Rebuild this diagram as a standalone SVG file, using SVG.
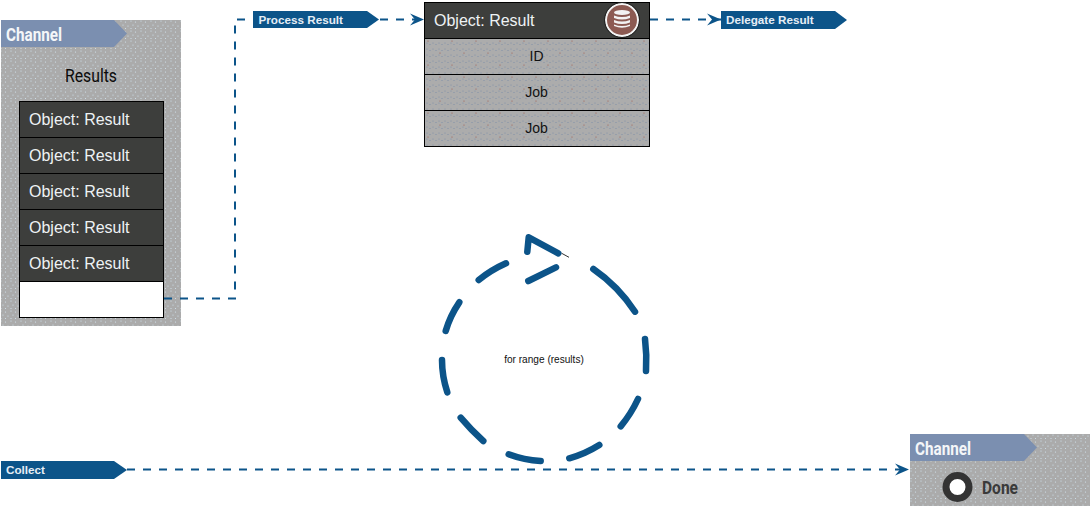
<svg xmlns="http://www.w3.org/2000/svg" width="1090" height="506" viewBox="0 0 1090 506">
<style>
.chan{fill:url(#stipple)}
.hdr{fill:#7b8fb0}
.tag{fill:#0c5489}
.tagt{font:bold 11.700px "Liberation Sans",Arial,sans-serif;fill:#e6eef6}
.cond{font-family:Roboto,"Liberation Sans",sans-serif}
.ct{font-size:18px;font-weight:700;fill:#f4f6f8}
.row{fill:#3d3e3c;stroke:#000;stroke-width:1}
.rowt{font:16px "Liberation Sans",Arial,sans-serif;fill:#eef2f4}
.cell{fill:url(#stipple2);stroke:#000;stroke-width:1}
.cellt{font:14px "Liberation Sans",Arial,sans-serif;fill:#111;text-anchor:middle}
.dash{fill:none;stroke:#0c5489;stroke-width:2;stroke-dasharray:8 8}
.loop{fill:none;stroke:#0c5489;stroke-width:6.500;stroke-linecap:round;stroke-linejoin:round}
</style>
<defs>
<pattern id="stipple" width="10" height="10" patternUnits="userSpaceOnUse"><rect width="10" height="10" fill="#ababab"/><g fill="#d3e6f2"><circle cx="1" cy="1" r=".6"/><circle cx="5.500" cy="2" r=".6"/><circle cx="3" cy="5" r=".6"/><circle cx="8" cy="6" r=".6"/><circle cx="1" cy="8.500" r=".55"/><circle cx="5.500" cy="8.500" r=".55"/></g></pattern>
<pattern id="stipple2" width="24" height="24" patternUnits="userSpaceOnUse"><rect width="24" height="24" fill="#acacac"/><g fill="#7c8ea8"><circle cx="1" cy="1" r=".6"/><circle cx="4" cy="2.500" r=".6"/><circle cx="7" cy="1" r=".6"/><circle cx="10" cy="2.500" r=".6"/><circle cx="13" cy="1" r=".6"/><circle cx="16" cy="2.500" r=".6"/><circle cx="19" cy="1" r=".6"/><circle cx="22" cy="2.500" r=".6"/><circle cx="1" cy="7" r=".6"/><circle cx="4" cy="8.500" r=".6"/><circle cx="7" cy="7" r=".6"/><circle cx="10" cy="8.500" r=".6"/><circle cx="13" cy="7" r=".6"/><circle cx="16" cy="8.500" r=".6"/><circle cx="19" cy="7" r=".6"/><circle cx="22" cy="8.500" r=".6"/><circle cx="1" cy="13" r=".6"/><circle cx="4" cy="14.500" r=".6"/><circle cx="7" cy="13" r=".6"/><circle cx="10" cy="14.500" r=".6"/><circle cx="13" cy="13" r=".6"/><circle cx="16" cy="14.500" r=".6"/><circle cx="19" cy="13" r=".6"/><circle cx="22" cy="14.500" r=".6"/><circle cx="1" cy="19" r=".6"/><circle cx="4" cy="20.500" r=".6"/><circle cx="7" cy="19" r=".6"/><circle cx="10" cy="20.500" r=".6"/><circle cx="13" cy="19" r=".6"/><circle cx="16" cy="20.500" r=".6"/><circle cx="19" cy="19" r=".6"/><circle cx="22" cy="20.500" r=".6"/></g><g fill="#a05a4c"><circle cx="8" cy="5" r=".6"/><circle cx="20" cy="17" r=".6"/></g></pattern>
<marker id="arrow" markerWidth="18" markerHeight="14" refX="15" refY="7" orient="auto" markerUnits="userSpaceOnUse"><path d="M1 1 L15 7 L1 13 L6 7 Z" fill="#0c5489"/></marker>
</defs>
<g id="channel-results">
<rect class="chan" x="1" y="20" width="180" height="306"/>
<path class="hdr" d="M1 20H114L127 33.500L114 47H1Z"/>
<text class="cond ct" x="6" y="41" textLength="56" lengthAdjust="spacingAndGlyphs">Channel</text>
<text class="cond" x="65" y="82" font-size="18" fill="#0a0a0a" textLength="52" lengthAdjust="spacingAndGlyphs">Results</text>
<rect class="row" x="19.500" y="101.500" width="144" height="36"/><text class="rowt" x="29" y="125">Object: Result</text>
<rect class="row" x="19.500" y="137.500" width="144" height="36"/><text class="rowt" x="29" y="161">Object: Result</text>
<rect class="row" x="19.500" y="173.500" width="144" height="36"/><text class="rowt" x="29" y="197">Object: Result</text>
<rect class="row" x="19.500" y="209.500" width="144" height="36"/><text class="rowt" x="29" y="233">Object: Result</text>
<rect class="row" x="19.500" y="245.500" width="144" height="36"/><text class="rowt" x="29" y="269">Object: Result</text>
<rect x="19.500" y="281.500" width="144" height="36" fill="#fff" stroke="#000"/>
</g>
<g id="process-result">
<path class="tag" d="M253 11H367L379 19.500L367 28H253Z"/>
<text class="tagt" x="258.500" y="23.500">Process Result</text>
</g>
<g id="object-result">
<rect class="row" x="424.500" y="2.500" width="225" height="36"/>
<text class="rowt" x="434" y="26">Object: Result</text>
<rect class="cell" x="424.500" y="38.500" width="225" height="36"/><text class="cellt" x="536.500" y="61">ID</text>
<rect class="cell" x="424.500" y="74.500" width="225" height="36"/><text class="cellt" x="536.500" y="97">Job</text>
<rect class="cell" x="424.500" y="110.500" width="225" height="36"/><text class="cellt" x="536.500" y="133">Job</text>
<circle cx="622" cy="20" r="16" fill="#8c5a52" stroke="#f4f4f4" stroke-width="2"/>
<circle cx="622" cy="20" r="17.500" fill="none" stroke="#222" stroke-width="1"/>
<g fill="#f2f2f2"><ellipse cx="622" cy="12.500" rx="8" ry="2.500"/><path d="M614 15.500Q622 18.500 630 15.500V18Q622 21 614 18Z"/><path d="M614 20Q622 23 630 20V22.500Q622 25.500 614 22.500Z"/><path d="M614 24.500Q622 27.500 630 24.500V26Q622 29.500 614 26Z"/></g>
</g>
<g id="delegate-result">
<path class="tag" d="M721 11H835L847 20L835 29H721Z"/>
<text class="tagt" x="726" y="24">Delegate Result</text>
</g>
<g id="for-range">
<path class="loop" d="M527.300 251.700L528.700 237.300L558.300 253.300"/>
<path d="M561.700 253.300L569 257.300" fill="none" stroke="#333" stroke-width="1"/>
<path class="loop" d="M556 267.300L528.300 281"/>
<path class="loop" d="M506 263.300Q491 270 478.700 280"/>
<path class="loop" d="M459.300 302.300Q450 316 445.700 331"/>
<path class="loop" d="M442 360Q442 376 447.300 392.300"/>
<path class="loop" d="M460.700 417.700Q471 430 483.300 441"/>
<path class="loop" d="M508.700 454.300Q524 460 540.700 461"/>
<path class="loop" d="M569.300 458.300Q585 454 599.300 445"/>
<path class="loop" d="M620.700 426.300Q631 414 638 399"/>
<path class="loop" d="M646 371Q647 355 645 339"/>
<path class="loop" d="M635 311.700Q618 286 593.300 269"/>
<text x="544" y="363" font-family="Liberation Sans,Arial,sans-serif" font-size="10.100" fill="#111" text-anchor="middle">for range (results)</text>
</g>
<g id="collect">
<path class="tag" d="M1 461H114L127 470L114 479H1Z"/>
<text class="tagt" x="6" y="474">Collect</text>
</g>
<g id="channel-done">
<rect class="chan" x="910" y="434" width="180" height="72"/>
<path class="hdr" d="M910 434H1024L1037 447.500L1024 461H910Z"/>
<text class="cond ct" x="915" y="455" textLength="56" lengthAdjust="spacingAndGlyphs">Channel</text>
<circle cx="957.500" cy="487" r="11.500" fill="#fff" stroke="#333" stroke-width="7"/>
<text class="cond" x="982" y="494" font-size="18" font-weight="700" fill="#3a3a3a" textLength="36" lengthAdjust="spacingAndGlyphs">Done</text>
</g>
<g id="connectors">
<path class="dash" d="M164 298.500H235V19.500H253"/>
<path class="dash" d="M380 19.500H424" marker-end="url(#arrow)"/>
<path class="dash" d="M650 19.500H721" marker-end="url(#arrow)"/>
<path class="dash" d="M127 469.500H909" marker-end="url(#arrow)"/>
</g>
</svg>
